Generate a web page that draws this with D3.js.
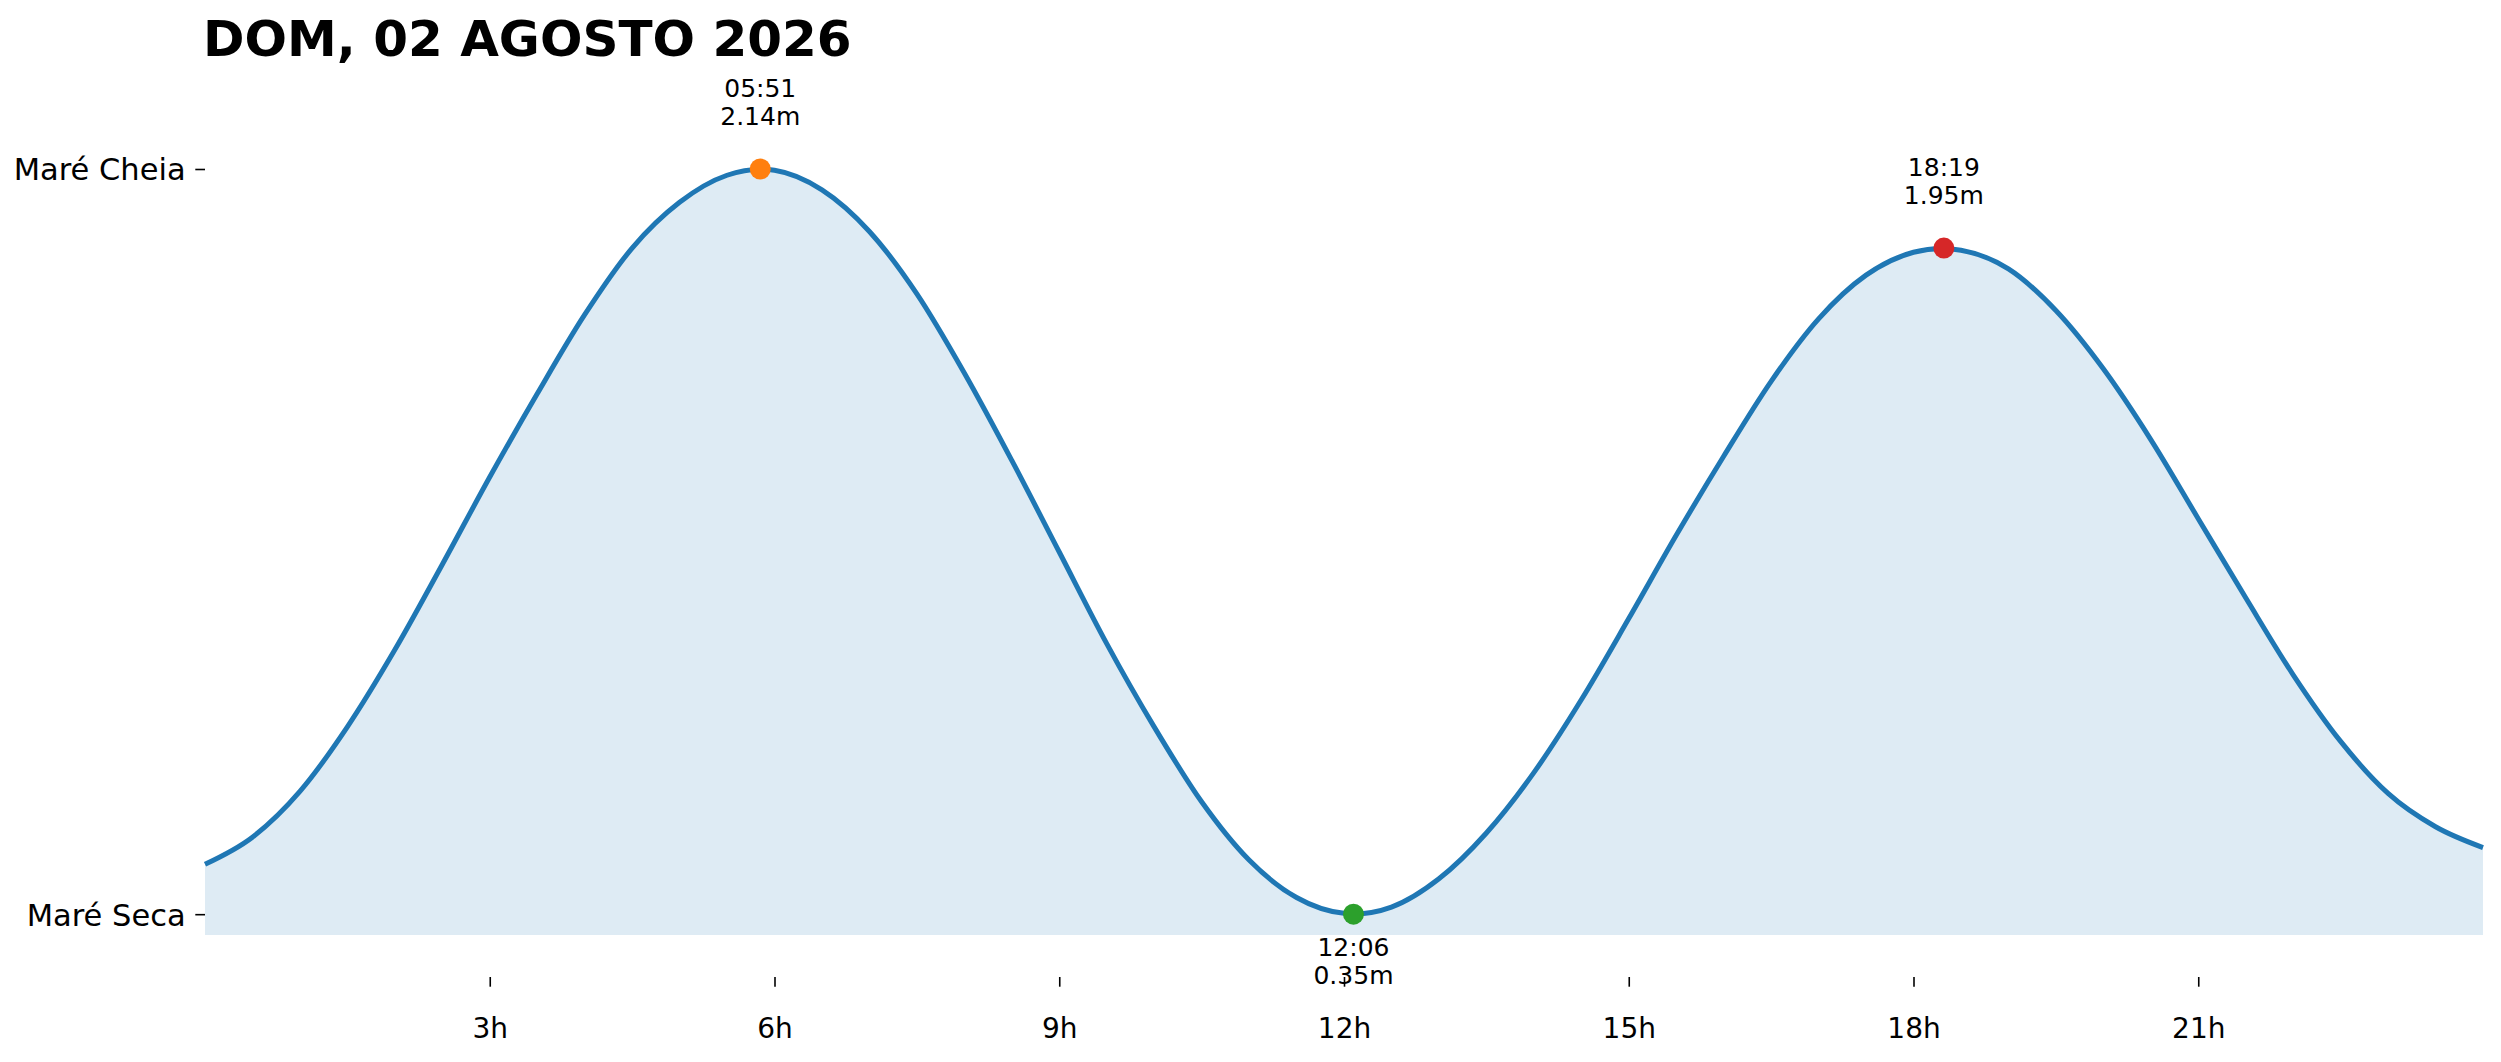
<!DOCTYPE html>
<html>
<head>
<meta charset="utf-8">
<script src="https://cdn.jsdelivr.net/npm/d3@7"></script>
<style>
  body { margin: 0; background: #fff; }
  text { font-family: "DejaVu Sans", sans-serif; }
</style>
</head>
<body>
<div id="chart"></div>
<script>
/* DATA */
const title = "DOM, 02 AGOSTO 2026";

// tide curve every half hour, height in metres
const tideHours = [
  0, 0.5, 1, 1.5, 2, 2.5, 3, 3.5, 4, 4.5, 5, 5.5,
  6, 6.5, 7, 7.5, 8, 8.5, 9, 9.5, 10, 10.5, 11, 11.5,
  12, 12.5, 13, 13.5, 14, 14.5, 15, 15.5, 16, 16.5, 17, 17.5,
  18, 18.5, 19, 19.5, 20, 20.5, 21, 21.5, 22, 22.5, 23, 23.5, 24
];
const tideHeights = [
  0.47, 0.535, 0.645, 0.80, 0.985, 1.19, 1.40, 1.60, 1.79, 1.95, 2.06, 2.125,
  2.137, 2.09, 1.99, 1.84, 1.65, 1.44, 1.22, 1.00, 0.80, 0.62, 0.48, 0.39,
  0.352, 0.367, 0.435, 0.545, 0.69, 0.865, 1.06, 1.26, 1.45, 1.63, 1.78, 1.885,
  1.94, 1.945, 1.90, 1.80, 1.66, 1.49, 1.30, 1.11, 0.925, 0.765, 0.64, 0.56, 0.51
];

// high / low water
const extremeHours = [5.85, 12.1, 18.32];
const extremeHeights = [2.14, 0.35, 1.95];
const extremeTimes = ["05:51", "12:06", "18:19"];
const extremeTypes = ["high", "low", "high"];

const xTicks = [3, 6, 9, 12, 15, 18, 21];
const yTickLabels = ["Maré Seca", "Maré Cheia"];

/* LAYOUT */
const W = 2501, H = 1062;
const plot = { left: 205, right: 2483, top: 169, bottom: 935 };
const xAxisY = 977;
const dotColors = ["#ff7f0e", "#2ca02c", "#d62728"];

const data = tideHours.map((h, i) => ({ h, v: tideHeights[i] }));
const extremes = extremeHours.map((h, i) => ({
  h, v: extremeHeights[i], t: extremeTimes[i], type: extremeTypes[i], color: dotColors[i]
}));

const yMin = d3.min(extremeHeights), yMax = d3.max(extremeHeights);

const x = d3.scaleLinear().domain([0, 24]).range([plot.left, plot.right]);
const y = d3.scaleLinear().domain([yMin - 0.05, yMax]).range([plot.bottom, plot.top]);

const svg = d3.select("#chart").append("svg")
  .attr("width", W)
  .attr("height", H);

const smooth = d3.curveCardinal.tension(0);

// fill under the curve
const area = d3.area()
  .x(d => x(d.h))
  .y0(plot.bottom)
  .y1(d => y(d.v))
  .curve(smooth);

svg.append("path")
  .datum(data)
  .attr("d", area)
  .attr("fill", "#1f77b4")
  .attr("fill-opacity", 0.15);

const line = d3.line()
  .x(d => x(d.h))
  .y(d => y(d.v))
  .curve(smooth);

svg.append("path")
  .datum(data)
  .attr("d", line)
  .attr("fill", "none")
  .attr("stroke", "#1f77b4")
  .attr("stroke-width", 5);

// x axis (no spine, offset below the plot)
const xAxis = d3.axisBottom(x)
  .tickValues(xTicks)
  .tickFormat(d => d + "h")
  .tickSize(9.7)
  .tickPadding(31);

const gx = svg.append("g")
  .attr("transform", `translate(0,${xAxisY})`)
  .call(xAxis);
gx.select(".domain").remove();
gx.selectAll("line").attr("stroke", "#000").attr("stroke-width", 1.6);
gx.selectAll("text")
  .attr("font-family", "DejaVu Sans")
  .attr("font-size", 28)
  .attr("fill", "#000");

// y axis, only min and max labelled
const yAxis = d3.axisLeft(y)
  .tickValues([yMin, yMax])
  .tickFormat((d, i) => yTickLabels[i])
  .tickSize(9.7)
  .tickPadding(9.7);

const gy = svg.append("g")
  .attr("transform", `translate(${plot.left},0)`)
  .call(yAxis);
gy.select(".domain").remove();
gy.selectAll("line").attr("stroke", "#000").attr("stroke-width", 1.6);
gy.selectAll("text")
  .attr("font-family", "DejaVu Sans")
  .attr("font-size", 30.5)
  .attr("fill", "#000")
  .attr("dy", "0.36em");

// extreme points
svg.selectAll("circle.ext")
  .data(extremes)
  .join("circle")
  .attr("class", "ext")
  .attr("cx", d => x(d.h))
  .attr("cy", d => y(d.v))
  .attr("r", 10.5)
  .attr("fill", d => d.color);

// labels above highs, below lows
const lbl = svg.selectAll("text.ext")
  .data(extremes)
  .join("text")
  .attr("class", "ext")
  .attr("text-anchor", "middle")
  .attr("font-size", 25)
  .attr("fill", "#000");

lbl.append("tspan")
  .attr("x", d => x(d.h))
  .attr("y", d => y(d.v) + (d.type === "high" ? -72 : 41.5))
  .text(d => d.t);

lbl.append("tspan")
  .attr("x", d => x(d.h))
  .attr("y", d => y(d.v) + (d.type === "high" ? -44 : 70))
  .text(d => d.v.toFixed(2) + "m");

// title
svg.append("text")
  .attr("x", plot.left - 2)
  .attr("y", 56)
  .attr("font-size", 50)
  .attr("font-weight", "bold")
  .attr("fill", "#000")
  .text(title);
</script>
</body>
</html>
